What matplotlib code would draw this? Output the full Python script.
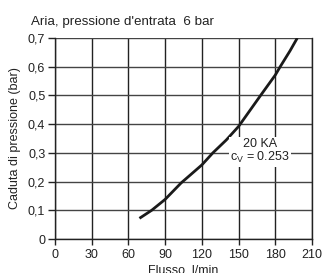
import matplotlib
matplotlib.use('Agg')
import matplotlib.pyplot as plt

# curve
flow = [69, 79, 90, 103, 120, 129, 140, 150, 160, 168, 180, 184, 192, 198]
drop = [0.072, 0.10, 0.138, 0.195, 0.258, 0.30, 0.345, 0.392, 0.452, 0.50, 0.571, 0.60, 0.655, 0.70]

xticks = [0, 30, 60, 90, 120, 150, 180, 210]
yticks = [0, 0.1, 0.2, 0.3, 0.4, 0.5, 0.6, 0.7]
ylabels = ['0', '0,1', '0,2', '0,3', '0,4', '0,5', '0,6', '0,7']

plt.rcParams['font.family'] = 'Liberation Sans'
plt.rcParams['mathtext.fontset'] = 'custom'
plt.rcParams['mathtext.rm'] = 'Liberation Sans'
fs = 9

fig = plt.figure(figsize=(3.22, 2.73), dpi=100)
ax = fig.add_axes([55/322, 1-239/273, 257/322, 201/273])

ax.plot(flow, drop, color='#1a1a1a', lw=2.0, solid_capstyle='butt')
ax.set_xlim(0, 210)
ax.set_ylim(0, 0.7)
ax.set_xticks(xticks)
ax.set_yticks(yticks)
ax.set_yticklabels(ylabels)
ax.xaxis.grid(True, color='#222222', lw=1.0)
ax.yaxis.grid(True, color='#444444', lw=1.0)
ax.set_axisbelow(True)
for s in ['left', 'bottom', 'right']:
    ax.spines[s].set_color('#222222')
    ax.spines[s].set_linewidth(1.0)
ax.spines['top'].set_visible(False)
ax.tick_params(labelsize=fs, colors='#222222', length=5, width=1.0, pad=2)
ax.tick_params(axis='x', length=4, pad=3)

ax.text(167.5, 0.305, '20 KA\n$\\mathregular{c_V}$ = 0.253', ha='center', va='center',
        fontsize=fs, color='#222222', linespacing=1.05,
        bbox=dict(facecolor='white', edgecolor='none', pad=1.0))

ax.set_xlabel('Flusso, l/min', fontsize=fs, color='#222222', labelpad=3)
ax.set_ylabel('Caduta di pressione (bar)', fontsize=fs, color='#222222', labelpad=5)
fig.text(31/322, 1-22/273, "Aria, pressione d'entrata  6 bar", fontsize=9.6,
         color='#222222', va='center')

fig.savefig('out.png', dpi=100)
